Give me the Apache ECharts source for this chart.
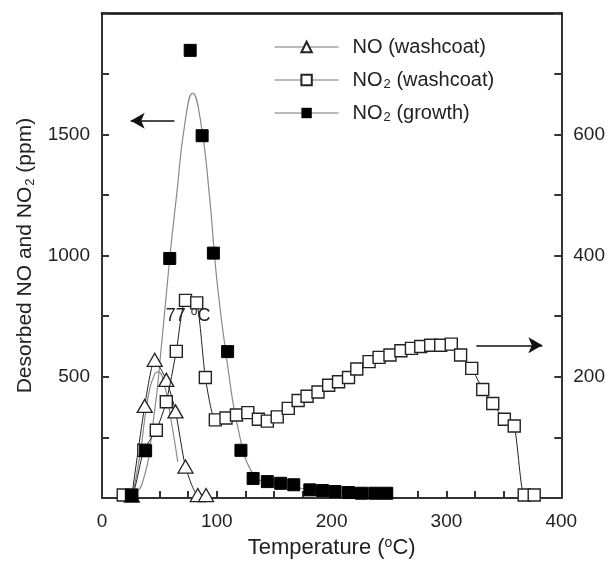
<!DOCTYPE html>
<html>
<head>
<meta charset="utf-8">
<script src="https://cdn.jsdelivr.net/npm/echarts@6/dist/echarts.min.js"></script>
<style>
  html, body { margin: 0; padding: 0; background: #fff; }
  #chart { width: 608px; height: 564px; }
</style>
</head>
<body>
<div id="chart"></div>
<script>
// Temperature-programmed desorption of NO / NO2
const FONT = '"Liberation Sans", Arial, sans-serif';

// NO desorbed from the washcoat (right axis, ppm)
const noTemp = [26, 37.2, 45.9, 56, 64, 72.7, 83.4, 90.6];
const noVal  = [4, 152, 228, 195, 143, 52, 5, 5];

// NO2 desorbed from the washcoat (right axis, ppm)
const no2wTemp = [18.5, 25.7, 36.4, 47.3, 56, 64.7, 72.7, 82.5, 90, 98.7, 108, 117.1, 127, 136.2, 144,
  152.6, 162.2, 170.8, 178.6, 188.1, 197.4, 206, 214.7, 221.9, 232.6, 241.3, 250.8, 260.3, 269.5,
  277.6, 286.3, 295, 304.2, 312.3, 322, 331.6, 340.3, 350.4, 359, 367.7, 376.4];
const no2wVal = [5, 5, 79, 112, 159, 242, 326, 322, 199, 129, 132, 137, 141, 130, 127,
  134, 148, 161, 168, 175, 186, 192, 199, 213, 225, 232, 236, 243, 247,
  250, 252, 252, 254, 236, 214, 179, 156, 130, 119, 5, 5];

// NO2 desorbed from the grown layer (left axis, ppm)
const no2gTemp = [26, 38, 59, 76.8, 87.2, 97, 109.4, 121, 131.6, 144, 155.6, 167, 181, 192, 203, 214.7, 226, 237.5, 248];
const no2gVal  = [10, 195, 988, 1846, 1494, 1010, 604, 197, 81, 68, 61, 55, 34, 31, 27, 23, 20, 20, 20];

// Fitted desorption profiles (thin grey curves)
const fitGrowthTemp = [24, 35, 45, 52, 59, 65, 72, 79, 86, 93.5, 100, 109, 119.5, 131, 142, 160, 190, 250];
const fitGrowthVal  = [0, 60, 330, 640, 990, 1250, 1540, 1670, 1550, 1250, 900, 560, 265, 102, 66, 52, 30, 18];
const fitNoTemp = [26, 33, 40, 46, 49, 54, 60, 66];
const fitNoVal  = [0, 70, 165, 205, 208, 190, 130, 60];

// Axis ticks
const xTicks = [0, 100, 200, 300, 400];
const leftTicks = [500, 1000, 1500];
const rightTicks = [200, 400, 600];

// Arrow annotations pointing to the relevant axis
const leftArrow = { from: [63, 1556], to: [25, 1556] };
const rightArrow = { from: [326, 252], to: [383.5, 252] };
const peakNote = { temp: 75, val: 300, text: '77 {sup|o}C' };

const zip = (a, b) => a.map((v, i) => [v, b[i]]);

const axisLineStyle = { color: '#333', width: 2 };
const tickStyle = { color: '#333', width: 2 };
const legendLine = { width: 1.2, color: '#777', opacity: 1 };

const chart = echarts.init(document.getElementById('chart'), null, { renderer: 'canvas' });

const subRich = {
  sub: { fontSize: 13, fontFamily: FONT, color: '#222', padding: [9, 0, 0, 1] },
  sup: { fontSize: 13, fontFamily: FONT, color: '#222', padding: [0, 0, 9, 0] }
};

chart.setOption({
  animation: false,
  backgroundColor: '#fff',
  grid: { left: 102, right: 45, top: 13, bottom: 59, containLabel: false },
  legend: {
    orient: 'vertical',
    left: 269,
    top: 30,
    itemWidth: 64,
    itemHeight: 13,
    itemGap: 9,
    textStyle: { fontSize: 20, fontFamily: FONT, color: '#222', lineHeight: 24, rich: subRich,
      padding: [0, 0, 0, 9] },
    formatter: n => n.replace('NO2', 'NO{sub|2}'),
    data: [
      { name: 'NO (washcoat)', lineStyle: legendLine },
      { name: 'NO2 (washcoat)', lineStyle: legendLine },
      { name: 'NO2 (growth)', lineStyle: legendLine }
    ]
  },
  xAxis: [{
    type: 'value', min: 0, max: 400, interval: 100,
    name: 'Temperature ({sup|o}C)',
    nameLocation: 'middle', nameGap: 36,
    nameTextStyle: { fontSize: 22, fontFamily: FONT, color: '#222', rich: {
      sup: { fontSize: 14, fontFamily: FONT, color: '#222', padding: [0, 0, 10, 0] } } },
    axisLine: { onZero: false, lineStyle: axisLineStyle },
    axisTick: { inside: true, length: 7, lineStyle: tickStyle },
    minorTick: { show: true, splitNumber: 4, length: 7, lineStyle: tickStyle },
    axisLabel: { fontSize: 19, fontFamily: FONT, color: '#222', margin: 14,
      formatter: v => xTicks.includes(v) ? String(v) : '' },
    splitLine: { show: false }
  }, {
    type: 'value', position: 'top', min: 0, max: 400,
    axisLine: { show: true, onZero: false, lineStyle: { color: '#111', width: 2.5 } },
    axisTick: { show: false }, axisLabel: { show: false }, splitLine: { show: false }
  }],
  yAxis: [{
    type: 'value', min: 0, max: 2000, interval: 250, position: 'left',
    name: 'Desorbed NO and NO{sub|2} (ppm)',
    nameLocation: 'middle', nameGap: 64, nameRotate: 90,
    nameTextStyle: { fontSize: 21, fontFamily: FONT, color: '#222', rich: {
      sub: { fontSize: 13, fontFamily: FONT, color: '#222', padding: [10, 0, 0, 1] } } },
    axisLine: { show: true, onZero: false, lineStyle: axisLineStyle },
    axisTick: { inside: true, length: 7, lineStyle: tickStyle },
    axisLabel: { fontSize: 19, fontFamily: FONT, color: '#222', margin: 12,
      formatter: v => leftTicks.includes(v) ? String(v) : '' },
    splitLine: { show: false }
  }, {
    type: 'value', min: 0, max: 800, interval: 100, position: 'right',
    axisLine: { show: true, onZero: false, lineStyle: axisLineStyle },
    axisTick: { inside: true, length: 7, lineStyle: tickStyle },
    axisLabel: { fontSize: 19, fontFamily: FONT, color: '#222', margin: 12,
      formatter: v => rightTicks.includes(v) ? String(v) : '' },
    splitLine: { show: false }
  }],
  series: [
    {
      name: 'fit growth', type: 'line', yAxisIndex: 0, smooth: 0.5, symbol: 'none', z: 1,
      lineStyle: { color: '#8a8a8a', width: 1.2 },
      data: zip(fitGrowthTemp, fitGrowthVal), silent: true
    },
    {
      name: 'fit NO', type: 'line', yAxisIndex: 1, smooth: 0.5, symbol: 'none', z: 1,
      lineStyle: { color: '#8a8a8a', width: 1.2 },
      data: zip(fitNoTemp, fitNoVal), silent: true
    },
    {
      name: 'NO (washcoat)', type: 'line', yAxisIndex: 1, smooth: 0.2,
      symbol: 'triangle', symbolSize: [15, 13], z: 3,
      lineStyle: { color: '#222', width: 1 },
      itemStyle: { color: '#fff', borderColor: '#222', borderWidth: 1.3 },
      data: zip(noTemp, noVal)
    },
    {
      name: 'NO2 (washcoat)', type: 'line', yAxisIndex: 1, smooth: 0.2,
      symbol: 'rect', symbolSize: 12, z: 4,
      lineStyle: { color: '#222', width: 1 },
      itemStyle: { color: '#fff', borderColor: '#222', borderWidth: 1.4 },
      data: zip(no2wTemp, no2wVal),
      markPoint: {
        symbol: 'rect', symbolSize: 1, itemStyle: { color: 'rgba(0,0,0,0)' },
        label: { show: true, position: 'inside', formatter: peakNote.text, fontSize: 18, fontFamily: FONT,
          color: '#222',
          rich: { sup: { fontSize: 12, fontFamily: FONT, color: '#222', padding: [0, 0, 9, 0] } } },
        data: [{ coord: [peakNote.temp, peakNote.val] }]
      }
    },
    {
      name: 'NO2 (growth)', type: 'line', yAxisIndex: 0,
      symbol: 'rect', symbolSize: 12, z: 5,
      lineStyle: { width: 0, color: '#444' },
      itemStyle: { color: '#000', borderColor: '#000' },
      data: zip(no2gTemp, no2gVal),
      markLine: {
        silent: true, symbol: ['none', 'arrow'], symbolSize: [12, 14],
        lineStyle: { color: '#111', width: 1.5, type: 'solid' },
        label: { show: false },
        data: [
          [{ coord: leftArrow.from }, { coord: leftArrow.to }]
        ]
      }
    },
    {
      name: 'arrow right', type: 'line', yAxisIndex: 1, data: [], symbol: 'none',
      markLine: {
        silent: true, symbol: ['none', 'arrow'], symbolSize: [12, 14],
        lineStyle: { color: '#111', width: 1.5, type: 'solid' },
        label: { show: false },
        data: [
          [{ coord: rightArrow.from }, { coord: rightArrow.to }]
        ]
      }
    }
  ]
});
</script>
</body>
</html>
